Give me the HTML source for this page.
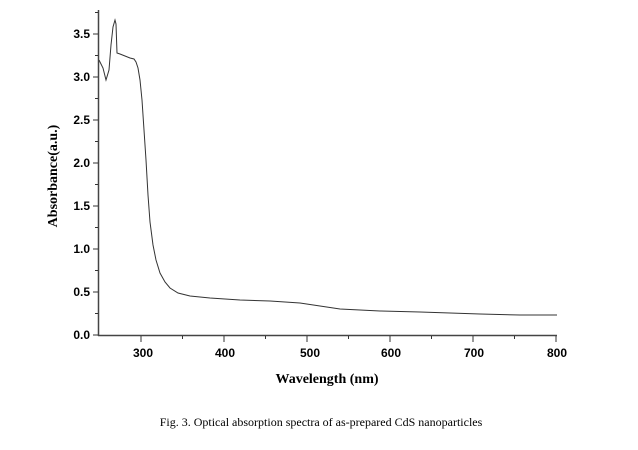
<!DOCTYPE html>
<html><head><style>
body{margin:0;background:#fff;width:638px;height:445px;overflow:hidden}
svg text{font-family:"Liberation Sans",Arial,sans-serif;font-weight:bold;font-size:12px;fill:#000}
</style></head><body>
<svg width="638" height="445" viewBox="0 0 638 445">
<g stroke="#444" stroke-width="1.5" fill="none">
<line x1="98.5" y1="10" x2="98.5" y2="336"/>
<line x1="98" y1="335.5" x2="557" y2="335.5"/>
</g>
<g stroke="#333" stroke-width="1">
<line x1="93" y1="335" x2="98" y2="335"/><line x1="95" y1="313.5" x2="98" y2="313.5"/>
<line x1="93" y1="292" x2="98" y2="292"/><line x1="95" y1="270.5" x2="98" y2="270.5"/>
<line x1="93" y1="249" x2="98" y2="249"/><line x1="95" y1="227.5" x2="98" y2="227.5"/>
<line x1="93" y1="206" x2="98" y2="206"/><line x1="95" y1="184.5" x2="98" y2="184.5"/>
<line x1="93" y1="163" x2="98" y2="163"/><line x1="95" y1="141.5" x2="98" y2="141.5"/>
<line x1="93" y1="120" x2="98" y2="120"/><line x1="95" y1="98.5" x2="98" y2="98.5"/>
<line x1="93" y1="77" x2="98" y2="77"/><line x1="95" y1="55.5" x2="98" y2="55.5"/>
<line x1="93" y1="34" x2="98" y2="34"/><line x1="95" y1="12.5" x2="98" y2="12.5"/>
<line x1="141" y1="336" x2="141" y2="342"/><line x1="182.5" y1="336" x2="182.5" y2="339"/>
<line x1="224" y1="336" x2="224" y2="342"/><line x1="265.5" y1="336" x2="265.5" y2="339"/>
<line x1="307" y1="336" x2="307" y2="342"/><line x1="348.5" y1="336" x2="348.5" y2="339"/>
<line x1="390" y1="336" x2="390" y2="342"/><line x1="431.5" y1="336" x2="431.5" y2="339"/>
<line x1="473" y1="336" x2="473" y2="342"/><line x1="514.5" y1="336" x2="514.5" y2="339"/>
<line x1="556" y1="336" x2="556" y2="342"/>
</g>
<g text-anchor="end">
<text x="90" y="339">0.0</text><text x="90" y="296">0.5</text><text x="90" y="253">1.0</text>
<text x="90" y="210">1.5</text><text x="90" y="167">2.0</text><text x="90" y="124">2.5</text>
<text x="90" y="81">3.0</text><text x="90" y="38">3.5</text>
</g>
<g text-anchor="middle">
<text x="143" y="357">300</text><text x="225" y="357">400</text><text x="310" y="357">500</text>
<text x="391" y="357">600</text><text x="474" y="357">700</text><text x="557" y="357">800</text>
</g>
<text x="327" y="383" text-anchor="middle" style="font-family:'Liberation Serif',serif;font-size:14px">Wavelength (nm)</text>
<text transform="translate(57,176) rotate(-90)" text-anchor="middle" style="font-family:'Liberation Serif',serif;font-size:14px">Absorbance(a.u.)</text>
<text x="321" y="426" text-anchor="middle" style="font-family:'Liberation Serif',serif;font-size:12px;font-weight:normal">Fig. 3. Optical absorption spectra of as-prepared CdS nanoparticles</text>
<polyline fill="none" stroke="#333" stroke-width="1" points="99,60 103,68 106,80 109,70 111,45 113,27 115,20 116,24 117,53 120,54 125,56 130,58 134,59 136,62 138,68 140,80 142,100 144,130 146,160 148,195 150,222 153,245 156,260 160,273 165,282 170,288 178,293 190,296 210,298 240,300 270,301 300,303 320,306 340,309 380,311 420,312 480,314 520,315 557,315"/>
</svg>
</body></html>
